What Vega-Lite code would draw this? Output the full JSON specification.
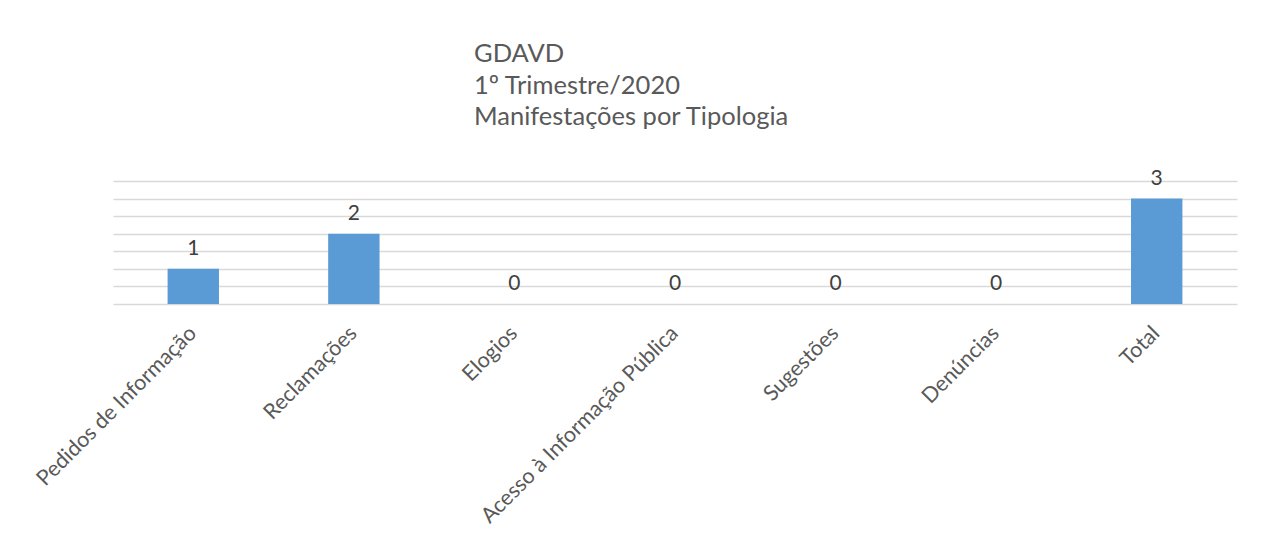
{
  "$schema": "https://vega.github.io/schema/vega-lite/v6.json",
  "width": 1124,
  "height": 123,
  "autosize": {"type": "none"},
  "padding": {"left": 113, "top": 181, "right": 24, "bottom": 232},
  "background": "white",
  "title": {
    "text": ["GDAVD", "1º Trimestre/2020", "Manifestações por Tipologia"],
    "anchor": "start",
    "frame": "group",
    "dx": 361,
    "offset": 37,
    "font": "Lato",
    "fontSize": 25.5,
    "fontWeight": "normal",
    "color": "#595959",
    "lineHeight": 31.5
  },
  "data": {
    "values": [
      {"categoria": "Pedidos de Informação", "valor": 1},
      {"categoria": "Reclamações", "valor": 2},
      {"categoria": "Elogios", "valor": 0},
      {"categoria": "Acesso à Informação Pública", "valor": 0},
      {"categoria": "Sugestões", "valor": 0},
      {"categoria": "Denúncias", "valor": 0},
      {"categoria": "Total", "valor": 3}
    ]
  },
  "encoding": {
    "x": {
      "field": "categoria",
      "type": "nominal",
      "sort": null,
      "scale": {"paddingInner": 0.68, "paddingOuter": 0.34},
      "axis": {
        "title": null,
        "labelAngle": -45,
        "labelAlign": "right",
        "labelBaseline": "middle",
        "labelFont": "Lato",
        "labelFontSize": 21.5,
        "labelColor": "#595959",
        "labelPadding": 26,
        "labelLimit": 0,
        "labelOverlap": false,
        "ticks": false,
        "domain": false,
        "grid": false
      }
    },
    "y": {
      "field": "valor",
      "type": "quantitative",
      "scale": {"domain": [0, 3.5], "nice": false},
      "axis": {
        "title": null,
        "labels": false,
        "ticks": false,
        "domain": false,
        "values": [0, 0.5, 1, 1.5, 2, 2.5, 3, 3.5],
        "grid": true,
        "gridColor": "#D9D9D9",
        "gridWidth": 1.5
      }
    }
  },
  "layer": [
    {"mark": {"type": "bar", "color": "#5B9BD5"}},
    {
      "mark": {
        "type": "text",
        "baseline": "alphabetic",
        "dy": -14,
        "font": "Lato",
        "fontSize": 21,
        "color": "#404040"
      },
      "encoding": {"text": {"field": "valor", "type": "quantitative"}}
    }
  ],
  "config": {"view": {"stroke": null}}
}
